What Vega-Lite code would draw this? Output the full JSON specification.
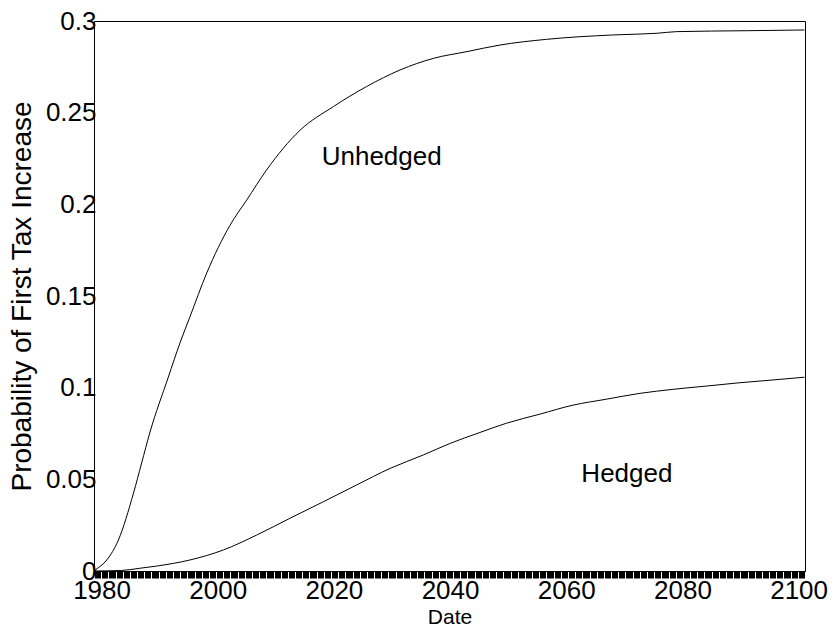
{
  "$schema": "https://vega.github.io/schema/vega-lite/v6.json",
  "width": 711,
  "height": 550,
  "autosize": "none",
  "padding": {"left": 94, "top": 21, "right": 29, "bottom": 58},
  "background": "white",
  "config": {"view": {"stroke": "black", "strokeWidth": 1}, "font": "Liberation Sans"},
  "datasets": {
    "curves": [
      {"series": "Unhedged", "year": 1978.7, "p": 0},
      {"series": "Unhedged", "year": 1978.9, "p": 0.0005},
      {"series": "Unhedged", "year": 1980.9, "p": 0.006},
      {"series": "Unhedged", "year": 1982.9, "p": 0.0169},
      {"series": "Unhedged", "year": 1985.5, "p": 0.0425},
      {"series": "Unhedged", "year": 1986.9, "p": 0.0589},
      {"series": "Unhedged", "year": 1988.3, "p": 0.0753},
      {"series": "Unhedged", "year": 1991.5, "p": 0.1058},
      {"series": "Unhedged", "year": 1993.5, "p": 0.1244},
      {"series": "Unhedged", "year": 1995.2, "p": 0.1385},
      {"series": "Unhedged", "year": 1998.1, "p": 0.1625},
      {"series": "Unhedged", "year": 2002.1, "p": 0.1885},
      {"series": "Unhedged", "year": 2005.0, "p": 0.2024},
      {"series": "Unhedged", "year": 2008.4, "p": 0.2187},
      {"series": "Unhedged", "year": 2014.2, "p": 0.2405},
      {"series": "Unhedged", "year": 2019.9, "p": 0.2533},
      {"series": "Unhedged", "year": 2025.6, "p": 0.2642},
      {"series": "Unhedged", "year": 2031.4, "p": 0.2733},
      {"series": "Unhedged", "year": 2037.1, "p": 0.2796},
      {"series": "Unhedged", "year": 2042.9, "p": 0.2833},
      {"series": "Unhedged", "year": 2048.6, "p": 0.2869},
      {"series": "Unhedged", "year": 2056.6, "p": 0.29},
      {"series": "Unhedged", "year": 2068.1, "p": 0.2924},
      {"series": "Unhedged", "year": 2075.6, "p": 0.2933},
      {"series": "Unhedged", "year": 2079.0, "p": 0.2942},
      {"series": "Unhedged", "year": 2091.0, "p": 0.2947},
      {"series": "Unhedged", "year": 2101.0, "p": 0.2951},
      {"series": "Hedged", "year": 1978.7, "p": 0},
      {"series": "Hedged", "year": 1983.5, "p": 0.0003},
      {"series": "Hedged", "year": 1986.6, "p": 0.0015},
      {"series": "Hedged", "year": 1989.5, "p": 0.0027},
      {"series": "Hedged", "year": 1995.2, "p": 0.006},
      {"series": "Hedged", "year": 2001.0, "p": 0.0115},
      {"series": "Hedged", "year": 2006.7, "p": 0.0196},
      {"series": "Hedged", "year": 2012.4, "p": 0.0287},
      {"series": "Hedged", "year": 2018.2, "p": 0.0378},
      {"series": "Hedged", "year": 2023.9, "p": 0.0469},
      {"series": "Hedged", "year": 2029.7, "p": 0.056},
      {"series": "Hedged", "year": 2035.4, "p": 0.0633},
      {"series": "Hedged", "year": 2040.0, "p": 0.0696},
      {"series": "Hedged", "year": 2045.0, "p": 0.0754},
      {"series": "Hedged", "year": 2049.7, "p": 0.0806},
      {"series": "Hedged", "year": 2055.5, "p": 0.0856},
      {"series": "Hedged", "year": 2061.2, "p": 0.0905},
      {"series": "Hedged", "year": 2066.9, "p": 0.0937},
      {"series": "Hedged", "year": 2072.7, "p": 0.0969},
      {"series": "Hedged", "year": 2078.4, "p": 0.0991},
      {"series": "Hedged", "year": 2084.2, "p": 0.1009},
      {"series": "Hedged", "year": 2089.9, "p": 0.1027},
      {"series": "Hedged", "year": 2095.6, "p": 0.1042},
      {"series": "Hedged", "year": 2101.0, "p": 0.1057}
    ],
    "labels": [
      {"label": "Unhedged", "year": 2017.9, "p": 0.2215},
      {"label": "Hedged", "year": 2062.6, "p": 0.0487}
    ]
  },
  "layer": [
    {
      "data": {"name": "curves"},
      "mark": {"type": "line", "color": "black", "strokeWidth": 1, "interpolate": "monotone"},
      "encoding": {
        "x": {
          "field": "year",
          "type": "quantitative",
          "scale": {"domain": [1978.7, 2101.1], "nice": false, "zero": false},
          "axis": {
            "title": "Date",
            "titleFontSize": 21,
            "titleFontWeight": "normal",
            "titleColor": "black",
            "titleBaseline": "alphabetic",
            "titleY": 52,
            "tickCount": 600,
            "tickSize": 7,
            "tickColor": "black",
            "tickWidth": 1,
            "labelExpr": "abs(datum.value % 20) < 0.001 ? format(datum.value, 'd') : ''",
            "labelOverlap": false,
            "labelFlush": false,
            "labelFontSize": 26,
            "labelColor": "black",
            "labelBaseline": "alphabetic",
            "labelPadding": 20,
            "domainColor": "black",
            "grid": false
          }
        },
        "y": {
          "field": "p",
          "type": "quantitative",
          "scale": {"domain": [0, 0.3], "nice": false},
          "axis": {
            "title": "Probability of First Tax Increase",
            "titleFontSize": 28,
            "titleFontWeight": "normal",
            "titleColor": "black",
            "titleX": -58,
            "values": [0, 0.05, 0.1, 0.15, 0.2, 0.25, 0.3],
            "format": "~g",
            "ticks": false,
            "labelPadding": -2,
            "labelFontSize": 26,
            "labelColor": "black",
            "domainColor": "black",
            "grid": false
          }
        },
        "detail": {"field": "series", "type": "nominal"}
      }
    },
    {
      "data": {"name": "labels"},
      "mark": {"type": "text", "align": "left", "baseline": "alphabetic", "fontSize": 26, "font": "Liberation Sans", "color": "black"},
      "encoding": {
        "x": {"field": "year", "type": "quantitative"},
        "y": {"field": "p", "type": "quantitative"},
        "text": {"field": "label", "type": "nominal"}
      }
    }
  ]
}
